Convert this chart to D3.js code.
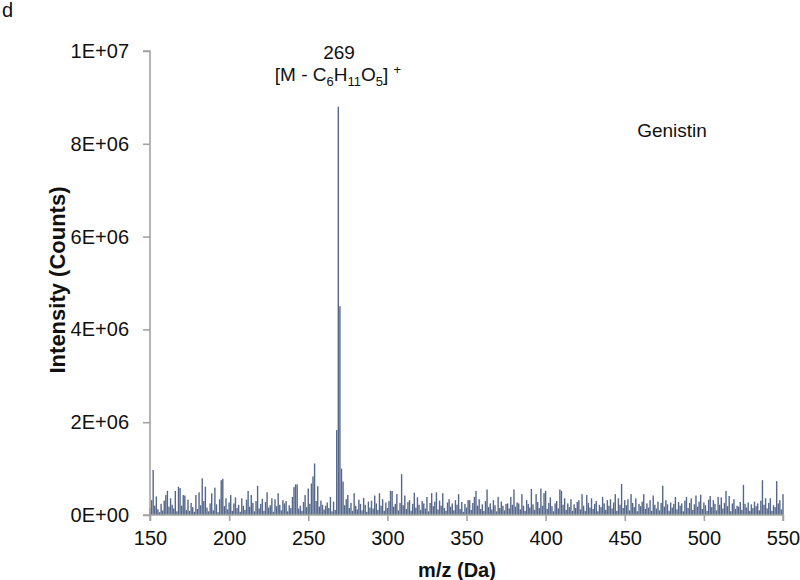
<!DOCTYPE html>
<html>
<head>
<meta charset="utf-8">
<script src="https://cdn.jsdelivr.net/npm/d3@7"></script>
<style>
  html, body { margin: 0; padding: 0; background: #fff; }
  svg { display: block; font-family: "Liberation Sans", Arial, sans-serif; }
</style>
</head>
<body>
<svg id="chart" width="800" height="580"></svg>
<script>
// m/z categories (Da), one bar per unit mass
const mzStart = 150, mzEnd = 550;
const mz = d3.range(mzStart, mzEnd + 1);

// Intensity values in units of 1E+05 counts, m/z 150..550
const intensityE5 = [
  1.5, 3.2, 9.7, 2.0, 4.0, 1.2, 0.6, 2.4, 1.0, 3.1,
  4.3, 5.2, 1.8, 3.6, 2.2, 1.4, 5.2, 0.8, 6.1, 5.8,
  2.0, 4.3, 4.2, 1.1, 3.3, 0.9, 2.6, 1.7, 0.7, 4.3,
  1.3, 4.9, 2.1, 7.9, 3.0, 6.1, 1.6, 0.8, 2.5, 4.7,
  1.0, 5.9, 2.3, 0.6, 3.4, 7.5, 7.8, 1.9, 3.6, 1.2,
  2.7, 4.3, 0.9, 2.5, 3.8, 1.5, 2.2, 0.7, 3.6, 2.0,
  1.1, 3.3, 5.2, 1.8, 4.3, 2.6, 0.8, 3.0, 6.3, 1.4,
  2.4, 3.5, 0.9, 2.8, 4.9, 1.6, 2.1, 3.6, 0.7, 3.4,
  1.9, 4.7, 2.2, 1.0, 3.2, 2.5, 3.0, 0.8, 2.1, 1.5,
  3.9, 6.0, 6.6, 6.6, 1.4, 2.0, 0.9, 2.8, 4.3, 1.7,
  5.7, 2.4, 6.8, 8.3, 11.1, 3.0, 6.2, 1.8, 3.1, 2.2,
  1.2, 2.0, 2.7, 1.5, 3.9, 0.8, 2.9, 1.1, 18.3, 88.0,
  45.0, 10.0, 7.2, 2.1, 3.4, 4.3, 1.5, 2.6, 0.9, 4.7,
  2.0, 1.2, 3.3, 2.4, 1.0, 3.7, 2.2, 0.7, 2.9, 1.6,
  3.1, 1.4, 4.2, 2.5, 1.1, 4.7, 2.0, 3.4, 0.9, 2.7,
  1.5, 3.0, 5.2, 5.2, 1.8, 2.4, 4.5, 1.0, 2.6, 8.8,
  2.1, 4.2, 1.3, 2.8, 3.2, 0.9, 2.4, 4.8, 1.6, 3.8,
  2.2, 1.1, 3.0, 2.5, 1.4, 3.9, 0.8, 2.6, 4.7, 1.9,
  2.9, 4.9, 1.2, 3.1, 2.0, 4.7, 1.5, 0.9, 2.7, 3.4,
  1.8, 2.5, 1.0, 3.2, 2.2, 4.5, 1.3, 2.8, 0.7, 2.4,
  1.6, 3.2, 3.2, 1.1, 2.6, 3.9, 5.2, 2.0, 3.4, 1.3,
  2.3, 0.9, 3.0, 5.5, 1.7, 2.5, 1.2, 3.2, 2.1, 0.8,
  3.9, 1.5, 2.9, 2.0, 1.0, 2.4, 2.5, 1.4, 3.9, 2.2,
  5.5, 1.8, 2.7, 2.5, 1.2, 4.5, 2.0, 0.9, 3.2, 2.4,
  1.6, 5.6, 2.3, 1.1, 4.5, 2.8, 1.5, 5.7, 2.0, 4.7,
  5.2, 1.3, 2.6, 3.8, 1.9, 0.8, 2.5, 3.0, 1.4, 5.5,
  5.2, 2.2, 3.6, 1.1, 2.5, 1.7, 3.4, 0.9, 2.3, 1.5,
  2.8, 3.2, 1.2, 4.5, 2.0, 0.9, 4.3, 2.6, 1.6, 3.6,
  1.3, 2.4, 3.0, 0.8, 2.2, 1.7, 3.9, 2.5, 1.1, 3.2,
  2.0, 3.4, 1.4, 2.7, 4.5, 0.9, 3.6, 2.2, 6.7, 1.5,
  3.2, 2.1, 3.4, 1.0, 4.5, 2.6, 1.7, 3.6, 0.8, 2.4,
  1.9, 2.9, 4.5, 1.3, 2.5, 1.6, 3.2, 0.9, 4.2, 2.2,
  1.4, 2.9, 1.0, 2.6, 6.3, 1.8, 3.2, 2.3, 0.9, 2.7,
  1.6, 2.4, 3.9, 1.2, 2.8, 2.0, 2.5, 0.8, 3.1, 3.9,
  1.5, 2.6, 3.6, 1.1, 2.3, 4.2, 1.8, 2.9, 4.4, 1.3,
  2.7, 2.1, 0.9, 3.3, 4.1, 1.7, 3.2, 2.4, 1.0, 3.9,
  2.2, 3.8, 1.4, 2.6, 5.2, 1.9, 4.1, 0.8, 2.5, 3.4,
  1.3, 2.0, 1.8, 2.8, 1.1, 6.5, 2.4, 1.6, 2.7, 0.9,
  2.3, 1.5, 2.9, 1.9, 2.5, 1.0, 3.1, 7.5, 2.2, 3.6,
  1.4, 2.6, 3.6, 0.9, 2.1, 1.7, 7.3, 2.5, 3.2, 1.2,
  4.5
];

const xTicks = [150, 200, 250, 300, 350, 400, 450, 500, 550];
const yTicks = [0, 2e6, 4e6, 6e6, 8e6, 1e7];
const yTickLabels = ["0E+00", "2E+06", "4E+06", "6E+06", "8E+06", "1E+07"];

const data = mz.map((m, i) => ({ mz: m, value: intensityE5[i] * 1e5 }));

const svg = d3.select("#chart");
const x = d3.scaleLinear().domain([150, 550]).range([150, 783]);
const y = d3.scaleLinear().domain([0, 1e7]).range([515, 51]);
const axisColor = "#a3a3a3";

// bars
svg.append("g")
  .selectAll("rect")
  .data(data)
  .join("rect")
  .attr("x", d => x(d.mz) - 0.7)
  .attr("width", 1.4)
  .attr("y", d => y(d.value))
  .attr("height", d => y(0) - y(d.value))
  .attr("fill", "#55678a");

// y axis
const yAxis = d3.axisLeft(y)
  .tickValues(yTicks)
  .tickFormat((d, i) => yTickLabels[i])
  .tickSize(7)
  .tickPadding(14);
const gy = svg.append("g").attr("transform", "translate(150,0)").call(yAxis);
gy.select(".domain").attr("stroke", axisColor).attr("stroke-width", 1.6).attr("d", "M-7,51H0V515H-7");
gy.selectAll(".tick line").attr("stroke", axisColor).attr("stroke-width", 1.6);
gy.selectAll(".tick text").attr("font-size", 20).attr("fill", "#111")
  .attr("font-family", "'Liberation Sans', Arial, sans-serif");

// x axis
const xAxis = d3.axisBottom(x)
  .tickValues(xTicks)
  .tickFormat(d3.format("d"))
  .tickSize(6)
  .tickPadding(10);
const gx = svg.append("g").attr("transform", "translate(0,515)").call(xAxis);
gx.select(".domain").attr("stroke", axisColor).attr("stroke-width", 1.6).attr("d", "M150,6V0H783V6");
gx.selectAll(".tick line").attr("stroke", axisColor).attr("stroke-width", 1.6);
gx.selectAll(".tick text").attr("font-size", 20).attr("fill", "#111")
  .attr("font-family", "'Liberation Sans', Arial, sans-serif");

// axis titles
svg.append("text")
  .attr("transform", "translate(65,280) rotate(-90)")
  .attr("text-anchor", "middle")
  .attr("font-size", 22)
  .attr("font-weight", "bold")
  .attr("fill", "#111")
  .text("Intensity (Counts)");

svg.append("text")
  .attr("x", 457).attr("y", 577)
  .attr("text-anchor", "middle")
  .attr("font-size", 20)
  .attr("font-weight", "bold")
  .attr("fill", "#111")
  .text("m/z (Da)");

// panel label
svg.append("text")
  .attr("x", 2).attr("y", 17)
  .attr("font-size", 20)
  .attr("fill", "#111")
  .text("d");

// compound name
svg.append("text")
  .attr("x", 672).attr("y", 137)
  .attr("text-anchor", "middle")
  .attr("font-size", 19)
  .attr("fill", "#111")
  .text("Genistin");

// peak annotation
svg.append("text")
  .attr("x", 339).attr("y", 59)
  .attr("text-anchor", "middle")
  .attr("font-size", 19)
  .attr("fill", "#111")
  .text("269");

const ann = svg.append("text")
  .attr("x", 338).attr("y", 81)
  .attr("text-anchor", "middle")
  .attr("font-size", 19)
  .attr("fill", "#111");
ann.append("tspan").text("[M - C");
ann.append("tspan").attr("font-size", 13).attr("dy", 5).text("6");
ann.append("tspan").attr("dy", -5).text("H");
ann.append("tspan").attr("font-size", 13).attr("dy", 5).text("11");
ann.append("tspan").attr("dy", -5).text("O");
ann.append("tspan").attr("font-size", 13).attr("dy", 5).text("5");
ann.append("tspan").attr("dy", -5).text("] ");
ann.append("tspan").attr("font-size", 13).attr("dy", -7).text("+");
</script>
</body>
</html>
